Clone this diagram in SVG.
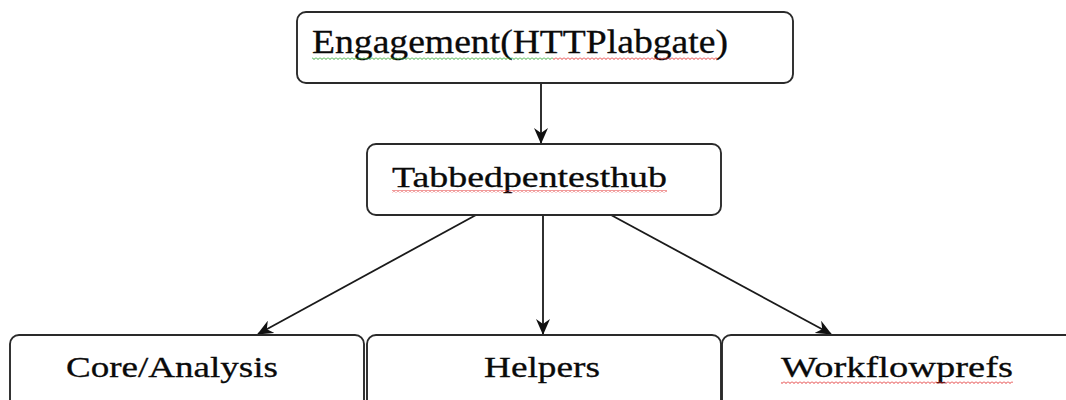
<svg xmlns="http://www.w3.org/2000/svg" width="1066" height="400" viewBox="0 0 1066 400">
<style>
.box{fill:#fff;stroke:#2a2a2a;stroke-width:1.9}
.lbl{font-family:"Liberation Serif","Times New Roman",serif;fill:#0a0a0a;stroke:#0a0a0a;stroke-width:0.3}
.edge{stroke:#1a1a1a;stroke-width:1.8;fill:none}
</style>
<defs>
<marker id="arr" markerWidth="16" markerHeight="14" refX="15" refY="7" orient="auto" markerUnits="userSpaceOnUse">
<path d="M0,0 L16,7 L0,14 L5,7 Z" fill="#111"/>
</marker>
<pattern id="wr" width="4" height="3" patternUnits="userSpaceOnUse">
<path d="M0 0.5 L2 2.5 L4 0.5" fill="none" stroke="#e02020" stroke-width="0.9"/>
</pattern>
<pattern id="wg" width="4" height="3" patternUnits="userSpaceOnUse">
<path d="M0 0.5 L2 2.5 L4 0.5" fill="none" stroke="#20a020" stroke-width="0.9"/>
</pattern>
</defs>
<rect width="1066" height="400" fill="#fff"/>
<g id="connectors">
<line class="edge" x1="541" y1="83" x2="541" y2="143" marker-end="url(#arr)"/>
<line class="edge" x1="543" y1="215" x2="543" y2="334" marker-end="url(#arr)"/>
<line class="edge" x1="476" y1="215" x2="258" y2="334" marker-end="url(#arr)"/>
<line class="edge" x1="611" y1="215" x2="831" y2="334" marker-end="url(#arr)"/>
</g>
<g id="node-engagement">
<rect class="box" x="297" y="12" width="496" height="71" rx="9"/>
<text class="lbl" x="312" y="53" font-size="34" textLength="416" lengthAdjust="spacingAndGlyphs">Engagement(HTTPlabgate)</text>
<rect x="312" y="57" width="241" height="3" fill="url(#wg)"/>
<rect x="553" y="57" width="165" height="3" fill="url(#wr)"/>
</g>
<g id="node-hub">
<rect class="box" x="367" y="144" width="354" height="71" rx="9"/>
<text class="lbl" x="392" y="187" font-size="30" textLength="275" lengthAdjust="spacingAndGlyphs">Tabbedpentesthub</text>
<rect x="392" y="190" width="275" height="3" fill="url(#wr)"/>
</g>
<g id="node-core">
<rect class="box" x="10" y="335" width="354" height="80" rx="9"/>
<text class="lbl" x="66" y="377" font-size="30" textLength="212" lengthAdjust="spacingAndGlyphs">Core/Analysis</text>
</g>
<g id="node-helpers">
<rect class="box" x="367" y="335" width="354" height="80" rx="9"/>
<text class="lbl" x="484" y="377" font-size="30" textLength="116" lengthAdjust="spacingAndGlyphs">Helpers</text>
</g>
<g id="node-workflow">
<rect class="box" x="722" y="335" width="360" height="80" rx="9"/>
<text class="lbl" x="781" y="377" font-size="30" textLength="232" lengthAdjust="spacingAndGlyphs">Workflowprefs</text>
<rect x="781" y="381" width="232" height="3" fill="url(#wr)"/>
</g>
</svg>
